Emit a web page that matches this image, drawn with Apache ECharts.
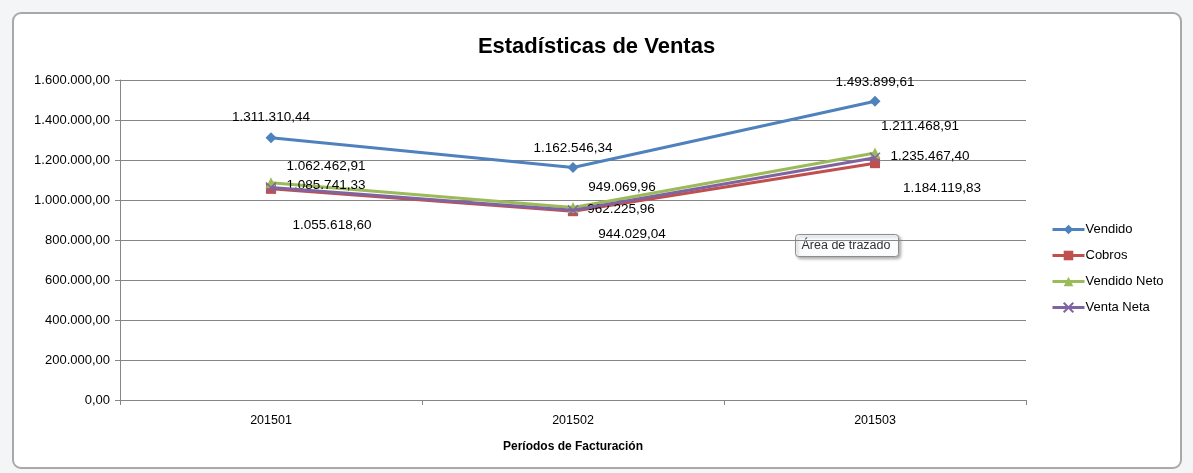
<!DOCTYPE html>
<html><head><meta charset="utf-8">
<script src="https://cdn.jsdelivr.net/npm/echarts@6/dist/echarts.min.js"></script>
<style>html,body{margin:0;padding:0;background:#fff}#c{width:1193px;height:473px}</style>
</head><body><div id="c"></div>
<script>
const categories = ['201501', '201502', '201503'];
const seriesNames = ['Vendido', 'Cobros', 'Vendido Neto', 'Venta Neta'];
const vendido = [1311310.44, 1162546.34, 1493899.61];
const cobros = [1055618.60, 944029.04, 1184119.83];
const vendidoNeto = [1085741.33, 962225.96, 1235467.40];
const ventaNeta = [1062462.91, 949069.96, 1211468.91];
const yTicks = { min: 0, max: 1600000, interval: 200000 };

// style: label offsets (pixels from point centre), per series
const labelOffsets = {
  'Vendido': [[0, -20], [0, -19], [0, -19]],
  'Cobros': [[61, 36], [59, 23], [67, 25]],
  'Vendido Neto': [[55, 2], [48, 2], [55, 3]],
  'Venta Neta': [[55, -21], [49, -23], [45, -31]]
};
const colors = { 'Vendido': '#4F81BD', 'Cobros': '#C0504D', 'Vendido Neto': '#9BBB59', 'Venta Neta': '#8064A2' };
const symbols = { 'Vendido': 'diamond', 'Cobros': 'rect', 'Vendido Neto': 'triangle', 'Venta Neta': 'path://M0,0 L10,10 M10,0 L0,10' };
const symbolSizes = { 'Vendido': 11, 'Cobros': 10, 'Vendido Neto': 11, 'Venta Neta': 10 };

function fmt(v) {
  const s = Number(v).toFixed(2).split('.');
  return s[0].replace(/\B(?=(\d{3})+(?!\d))/g, '.') + ',' + s[1];
}
const dataMap = { 'Vendido': vendido, 'Cobros': cobros, 'Vendido Neto': vendidoNeto, 'Venta Neta': ventaNeta };
const FONT = 'Liberation Sans';

const series = seriesNames.map(name => ({
  name,
  type: 'line',
  symbol: symbols[name],
  symbolSize: symbolSizes[name],
  lineStyle: { width: 3, color: colors[name] },
  itemStyle: name === 'Venta Neta'
    ? { color: colors[name], borderColor: colors[name], borderWidth: 1.5 }
    : { color: colors[name] },
  z: name === 'Vendido' ? 5 : (name === 'Vendido Neto' ? 3 : (name === 'Venta Neta' ? 4 : 2)),
  data: dataMap[name].map((v, i) => ({
    value: v,
    label: { show: true, position: 'inside', offset: labelOffsets[name][i] }
  })),
  label: {
    show: true, formatter: p => fmt(p.value), color: '#000', fontFamily: FONT, fontSize: 13.5,
    align: 'center', verticalAlign: 'middle'
  },
  emphasis: { disabled: true },
  animation: false
}));

const chart = echarts.init(document.getElementById('c'), null, { renderer: 'canvas' });
chart.setOption({
  backgroundColor: '#fff',
  animation: false,
  color: seriesNames.map(n => colors[n]),
  title: {
    text: 'Estadísticas de Ventas', left: 'center', top: 31,
    textStyle: { fontFamily: FONT, fontSize: 22, fontWeight: 'bold', color: '#000' }
  },
  legend: {
    orient: 'vertical', left: 1046, top: 218, itemGap: 13, itemWidth: 32, itemHeight: 12,
    data: seriesNames,
    lineStyle: { width: 3 },
    textStyle: { fontFamily: FONT, fontSize: 13, color: '#000', padding: [0, 0, 0, -4] }
  },
  grid: { left: 120, right: 167, top: 80, bottom: 73 },
  xAxis: {
    type: 'category', data: categories, boundaryGap: true,
    axisLine: { lineStyle: { color: '#868686', width: 1 } },
    axisTick: { show: true, length: 5, lineStyle: { color: '#868686' } },
    axisLabel: { color: '#000', fontFamily: FONT, fontSize: 12.5, margin: 14 },
    name: 'Períodos de Facturación', nameLocation: 'middle', nameGap: 41,
    nameTextStyle: { fontFamily: FONT, fontSize: 12, fontWeight: 'bold', color: '#000' }
  },
  yAxis: {
    type: 'value', min: yTicks.min, max: yTicks.max, interval: yTicks.interval,
    axisLine: { show: true, lineStyle: { color: '#868686', width: 1 } },
    axisTick: { show: true, length: 5, lineStyle: { color: '#868686' } },
    axisLabel: { color: '#000', fontFamily: FONT, fontSize: 13, margin: 10, formatter: v => fmt(v) },
    splitLine: { lineStyle: { color: '#868686', width: 1 } }
  },
  graphic: [
    { type: 'rect', z: -10, silent: true, shape: { x: 0, y: 0, width: 1193, height: 473 }, style: { fill: '#f4f5f6' } },
    { type: 'rect', z: -9, silent: true, shape: { x: 13, y: 13, width: 1168, height: 455, r: 8 }, style: { fill: '#fff', stroke: '#a9a9a9', lineWidth: 2 } },
    {
      type: 'group', left: 795, top: 234, z: 100, children: [
        { type: 'rect', shape: { x: 0, y: 0, width: 103, height: 22, r: 3 },
          style: { fill: '#fbfcfe', stroke: '#8c8c8c', lineWidth: 1, shadowBlur: 3, shadowOffsetX: 2, shadowOffsetY: 2, shadowColor: 'rgba(0,0,0,0.3)' } },
        { type: 'text', x: 6, y: 11, style: { text: 'Área de trazado', fontFamily: FONT, fontSize: 12.5, fill: '#333', verticalAlign: 'middle' } }
      ]
    }
  ],
  series
});
</script></body></html>
